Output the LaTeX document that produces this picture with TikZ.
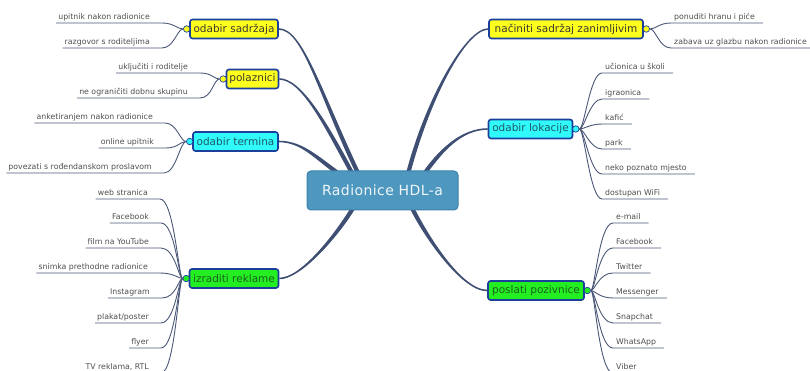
\documentclass[tikz,border=0pt]{standalone}
\usepackage{fontspec}
\setmainfont{DejaVu Sans}
\newfontfamily\hubfont[LetterSpace=3]{DejaVu Sans}
\usetikzlibrary{calc}
\definecolor{hubfill}{HTML}{4E97BF}
\definecolor{hubdraw}{HTML}{3B82AE}
\definecolor{hubtext}{HTML}{EEF6FA}
\definecolor{boxdraw}{HTML}{1B3F9B}
\definecolor{yfill}{HTML}{FFFF1E}
\definecolor{cfill}{HTML}{30FAFA}
\definecolor{gfill}{HTML}{22EE22}
\definecolor{ytext}{HTML}{3A3A30}
\definecolor{ctext}{HTML}{1E5A68}
\definecolor{gtext}{HTML}{1E601E}
\definecolor{limbcol}{HTML}{3E4F73}
\definecolor{twigcol}{HTML}{4A5776}
\definecolor{leafgray}{HTML}{4E4E4E}
\tikzset{
  hub/.style={rounded corners=4pt, fill=hubfill, draw=hubdraw, line width=1pt,
    minimum width=151pt, minimum height=39pt, font=\hubfont\fontsize{14}{16}\selectfont, text=hubtext},
  topic/.style={rounded corners=2.5pt, draw=boxdraw, line width=1.6pt, minimum height=19pt,
    inner xsep=2pt, inner ysep=0pt, font=\fontsize{10.5}{12}\selectfont},
  ytopic/.style={topic, fill=yfill, text=ytext},
  ctopic/.style={topic, fill=cfill, text=ctext},
  gtopic/.style={topic, fill=gfill, text=gtext},
  knob/.style={circle, draw=boxdraw, line width=0.7pt, minimum size=6.5pt, inner sep=0pt},
  leaf/.style={font=\fontsize{7.8}{9}\selectfont, text=leafgray, inner ysep=1.2pt,
    text height=6pt, text depth=2pt},
  lleaf/.style={leaf, anchor=south east, inner xsep=2pt},
  rleaf/.style={leaf, anchor=south west, inner xsep=3pt},
  twig/.style={draw=twigcol, line width=0.9pt},
}
% tapered limb: #1 start, #2 start control offset, #3 end control offset, #4 end
\newcommand\taperlimb[4]{%
  \path #1 coordinate (tl-a) #4 coordinate (tl-b);
  \path (tl-a) ++#2 coordinate (tl-ca);
  \path (tl-b) ++#3 coordinate (tl-cb);
  \path ($(tl-a)!0.8pt!90:(tl-ca)$) coordinate (tl-a1)
        ($(tl-a)!0.8pt!-90:(tl-ca)$) coordinate (tl-a2)
        ($(tl-b)!2.1pt!-90:(tl-cb)$) coordinate (tl-b1)
        ($(tl-b)!2.1pt!90:(tl-cb)$) coordinate (tl-b2);
  \fill[limbcol] (tl-a1) .. controls ($(tl-ca)+(tl-a1)-(tl-a)$) and ($(tl-cb)+(tl-b1)-(tl-b)$) .. (tl-b1)
     -- (tl-b2) .. controls ($(tl-cb)+(tl-b2)-(tl-b)$) and ($(tl-ca)+(tl-a2)-(tl-a)$) .. (tl-a2) -- cycle;
}
\begin{document}
\begin{tikzpicture}[x=1pt,y=-1pt]
\useasboundingbox (0,0) rectangle (810,371);

% topics
\node[ytopic, minimum width=88pt] (sad) at (234,29) {odabir sadržaja};
\node[ytopic, minimum width=52pt] (pol) at (252.5,79) {polaznici};
\node[ctopic, minimum width=85pt] (ter) at (235.5,141.5) {odabir termina};
\node[gtopic, minimum width=89pt] (rek) at (234,278.5) {izraditi reklame};
\node[ytopic, minimum width=154pt] (zan) at (566,29) {načiniti sadržaj zanimljivim};
\node[ctopic, minimum width=84pt] (lok) at (530.5,129) {odabir lokacije};
\node[gtopic, minimum width=96pt] (poz) at (536,290.5) {poslati pozivnice};

% hub position (needed for limbs)
\coordinate (hubc) at (382.5,190.5);
\coordinate (hubn) at (382.5,172);
\coordinate (hubs) at (382.5,209);

% limbs
\taperlimb{(sad.east)}{(24,0)}{(-38,-80)}{([xshift=-25pt]hubn)}
\taperlimb{(pol.east)}{(22,0)}{(-26,-48)}{([xshift=-31pt]hubn)}
\taperlimb{(ter.east)}{(22,0)}{(-22,-16)}{([xshift=-46pt]hubn)}
\taperlimb{(rek.east)}{(22,0)}{(-16,26)}{([xshift=-30pt]hubs)}
\taperlimb{(zan.west)}{(-22,0)}{(20,-75)}{([xshift=26pt]hubn)}
\taperlimb{(lok.west)}{(-26,0)}{(16,-22)}{([xshift=43pt]hubn)}
\taperlimb{(poz.west)}{(-26,0)}{(13,26)}{([xshift=30pt]hubs)}

% hub
\node[hub] (hub) at (hubc) {Radionice HDL-a};

% knobs
\node[knob, fill=yfill] (sadk) at ([xshift=-2.5pt]sad.west) {};
\node[knob, fill=yfill] (polk) at ([xshift=-2.5pt]pol.west) {};
\node[knob, fill=cfill] (terk) at ([xshift=-2.5pt]ter.west) {};
\node[knob, fill=gfill] (rekk) at ([xshift=-2.5pt]rek.west) {};
\node[knob, fill=yfill] (zank) at ([xshift=2.5pt]zan.east) {};
\node[knob, fill=cfill] (lokk) at ([xshift=2.5pt]lok.east) {};
\node[knob, fill=gfill] (pozk) at ([xshift=2.5pt]poz.east) {};

% left leaves: odabir sadrzaja
\node[lleaf] (s1) at (152,23) {upitnik nakon radionice};
\node[lleaf] (s2) at (152,48) {razgovor s roditeljima};
% polaznici
\node[lleaf] (p1) at (190,73) {uključiti i roditelje};
\node[lleaf] (p2) at (190,98) {ne ograničiti dobnu skupinu};
% odabir termina
\node[lleaf] (t1) at (155,123) {anketiranjem nakon radionice};
\node[lleaf] (t2) at (156,148) {online upitnik};
\node[lleaf] (t3) at (154,173) {povezati s rođendanskom proslavom};
% izraditi reklame
\node[lleaf] (r1) at (150,199) {web stranica};
\node[lleaf] (r2) at (151,223) {Facebook};
\node[lleaf] (r3) at (151,248) {film na YouTube};
\node[lleaf] (r4) at (150,273) {snimka prethodne radionice};
\node[lleaf] (r5) at (152,298) {Instagram};
\node[lleaf] (r6) at (151,323) {plakat/poster};
\node[lleaf] (r7) at (151,348) {flyer};
\node[lleaf] (r8) at (151,373) {TV reklama, RTL};

\foreach \n in {s1,s2} {\draw[twig] (sadk.west) .. controls +(-6,0) and +(12,0) .. ([xshift=10pt]\n.south east) -- (\n.south west);}
\foreach \n in {p1,p2} {\draw[twig] (polk.west) .. controls +(-6,0) and +(12,0) .. ([xshift=10pt]\n.south east) -- (\n.south west);}
\foreach \n in {t1,t2,t3} {\draw[twig] (terk.west) .. controls +(-6,0) and +(12,0) .. ([xshift=10pt]\n.south east) -- (\n.south west);}
\foreach \n in {r1,r2,r3,r4,r5,r6,r7,r8} {\draw[twig] (rekk.west) .. controls +(-4,0) and +(14,0) .. ([xshift=10pt]\n.south east) -- (\n.south west);}

% right leaves: nacini sadrzaj zanimljivim
\node[rleaf] (z1) at (671,23) {ponuditi hranu i piće};
\node[rleaf] (z2) at (671,48) {zabava uz glazbu nakon radionice};
% odabir lokacije
\node[rleaf] (l1) at (602,73) {učionica u školi};
\node[rleaf] (l2) at (602,99) {igraonica};
\node[rleaf] (l3) at (602,124) {kafić};
\node[rleaf] (l4) at (602,149) {park};
\node[rleaf] (l5) at (602,174) {neko poznato mjesto};
\node[rleaf] (l6) at (602,199) {dostupan WiFi};
% poslati pozivnice
\node[rleaf] (q1) at (613,223) {e-mail};
\node[rleaf] (q2) at (613,248) {Facebook};
\node[rleaf] (q3) at (613,273) {Twitter};
\node[rleaf] (q4) at (613,298) {Messenger};
\node[rleaf] (q5) at (613,323) {Snapchat};
\node[rleaf] (q6) at (613,348) {WhatsApp};
\node[rleaf] (q7) at (613,373) {Viber};

\foreach \n in {z1,z2} {\draw[twig] (zank.east) .. controls +(6,0) and +(-12,0) .. (\n.south west) -- ([xshift=5pt]\n.south east);}
\foreach \n in {l1,l2,l3,l4,l5,l6} {\draw[twig] (lokk.east) .. controls +(5,0) and +(-12,0) .. (\n.south west) -- ([xshift=5pt]\n.south east);}
\foreach \n in {q1,q2,q3,q4,q5,q6,q7} {\draw[twig] (pozk.east) .. controls +(4,0) and +(-14,0) .. (\n.south west) -- ([xshift=5pt]\n.south east);}
\end{tikzpicture}
\end{document}
